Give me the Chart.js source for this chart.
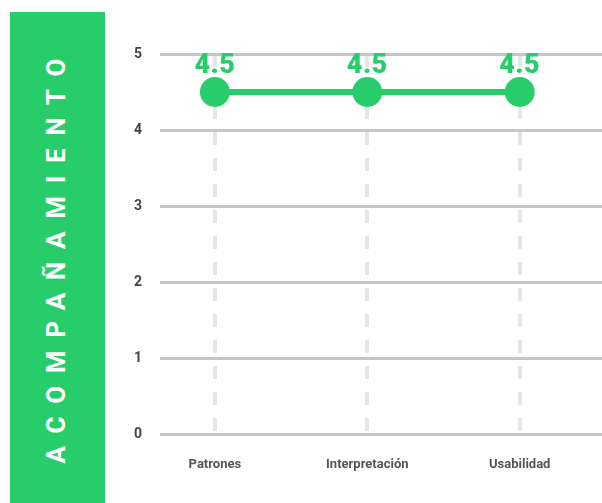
<!DOCTYPE html>
<html>
<head>
<meta charset="utf-8">
<script src="https://cdn.jsdelivr.net/npm/chart.js@4"></script>
<style>
  html, body { margin: 0; padding: 0; background: #fff; }
  body { width: 602px; height: 503px; position: relative; overflow: hidden; font-family: Roboto, sans-serif; }
  .side {
    position: absolute; left: 10px; top: 12px; width: 95px; height: 491px;
    background: #28cd6b;
  }
  .side span {
    position: absolute; left: 50%; top: 50%;
    transform: translate(-50%, -50%) rotate(-90deg);
    white-space: nowrap;
    color: #fff; font: bold 26px Roboto, sans-serif;
    line-height: 26px;
    letter-spacing: 12.7px;
    padding-left: 12.7px;
    margin-top: 3px;
    margin-left: -2px;
  }
  .wrap { position: absolute; left: 105px; top: 0; width: 497px; height: 503px; }
</style>
</head>
<body>
<div class="side"><span>ACOMPAÑAMIENTO</span></div>
<div class="wrap"><canvas id="chart" width="497" height="503"></canvas></div>
<script>
// Datos
const categories = ['Patrones', 'Interpretación', 'Usabilidad'];
const scores = [4.5, 4.5, 4.5];
const yTicks = [0, 1, 2, 3, 4, 5];

const verde = '#28cd6b';

// Etiquetas de valor encima de cada punto
const valueLabels = {
    id: 'valueLabels',
    afterDatasetsDraw(chart) {
        const ctx = chart.ctx;
        const meta = chart.getDatasetMeta(0);
        ctx.save();
        ctx.fillStyle = verde;
        ctx.font = '900 27px Roboto';
        ctx.letterSpacing = '0.5px';
        ctx.textAlign = 'center';
        ctx.textBaseline = 'middle';
        meta.data.forEach((pt, i) => {
            ctx.fillText(scores[i].toFixed(1), pt.x, pt.y - 26);
        });
        ctx.restore();
    }
};

new Chart(document.getElementById('chart'), {
    type: 'line',
    data: {
        datasets: [{
            data: scores.map((v, i) => ({ x: i, y: v })),
            borderColor: verde,
            backgroundColor: verde,
            borderWidth: 6,
            pointRadius: 12,
            pointHoverRadius: 12
        }]
    },
    options: {
        responsive: false,
        animation: false,
        layout: { autoPadding: false, padding: { top: 54, right: 0, left: 0, bottom: 0 } },
        plugins: { legend: { display: false }, tooltip: { enabled: false } },
        scales: {
            x: {
                type: 'linear',
                min: -0.36,
                max: 2.54,
                afterBuildTicks: s => { s.ticks = categories.map((c, i) => ({ value: i })); },
                afterFit: s => { s.height = 69; s.paddingLeft = 0; s.paddingRight = 0; },
                // líneas verticales discontinuas
                border: { display: false, dash: [13, 13] },
                grid: { color: '#e6e6e6', lineWidth: 4, drawTicks: false },
                ticks: {
                    padding: 23,
                    color: '#555',
                    font: { family: 'Roboto', size: 13, weight: 'bold' },
                    callback: v => categories[v]
                }
            },
            y: {
                min: 0,
                max: 5,
                afterBuildTicks: s => { s.ticks = yTicks.map(v => ({ value: v })); },
                afterFit: s => { s.width = 55; },
                border: { display: false },
                grid: { color: '#c6c6c6', lineWidth: 3, drawTicks: false },
                ticks: {
                    padding: 18,
                    color: '#444',
                    font: { family: 'Roboto', size: 14, weight: 'bold' }
                }
            }
        }
    },
    plugins: [valueLabels]
});
</script>
</body>
</html>
